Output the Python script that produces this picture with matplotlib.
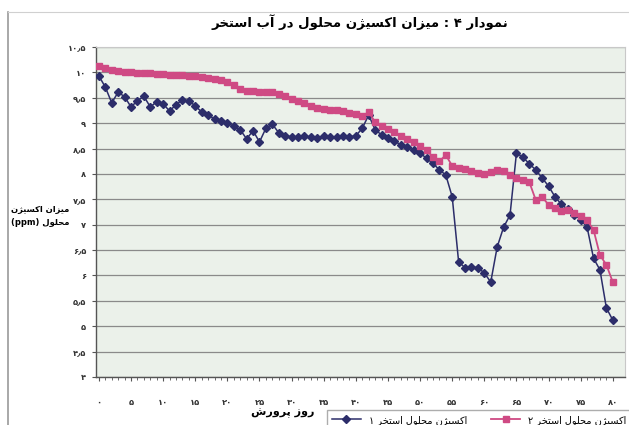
import matplotlib
matplotlib.use("Agg")
import matplotlib.pyplot as plt
from matplotlib.lines import Line2D

# dissolved oxygen (ppm) per rearing day, two ponds
days = list(range(81))

pond_a = [9.93, 9.71, 9.40, 9.61, 9.52, 9.32, 9.44, 9.53, 9.32, 9.42,
          9.38, 9.24, 9.36, 9.46, 9.44, 9.34, 9.22, 9.16, 9.08, 9.04,
          9.00, 8.94, 8.87, 8.69, 8.85, 8.63, 8.90, 8.98, 8.81, 8.75,
          8.73, 8.72, 8.74, 8.73, 8.71, 8.74, 8.73, 8.72, 8.74, 8.73,
          8.75, 8.90, 9.16, 8.87, 8.77, 8.71, 8.65, 8.57, 8.53, 8.47,
          8.41, 8.31, 8.21, 8.08, 7.98, 7.55, 6.27, 6.15, 6.17, 6.15,
          6.05, 5.87, 6.56, 6.95, 7.19, 8.41, 8.33, 8.20, 8.08, 7.92,
          7.76, 7.55, 7.40, 7.30, 7.20, 7.10, 6.95, 6.34, 6.11, 5.36,
          5.12]

pond_b = [10.13, 10.09, 10.05, 10.03, 10.01, 10.01, 9.99, 9.99, 9.99, 9.97,
          9.97, 9.95, 9.95, 9.95, 9.93, 9.93, 9.91, 9.89, 9.87, 9.85,
          9.81, 9.75, 9.67, 9.63, 9.63, 9.61, 9.61, 9.61, 9.57, 9.53,
          9.48, 9.44, 9.40, 9.34, 9.30, 9.28, 9.26, 9.26, 9.24, 9.20,
          9.18, 9.14, 9.22, 9.02, 8.94, 8.88, 8.83, 8.75, 8.69, 8.63,
          8.55, 8.47, 8.33, 8.25, 8.37, 8.16, 8.12, 8.10, 8.06, 8.02,
          8.00, 8.04, 8.08, 8.06, 7.98, 7.92, 7.88, 7.84, 7.49, 7.55,
          7.39, 7.33, 7.27, 7.29, 7.23, 7.17, 7.09, 6.90, 6.40, 6.21,
          5.87]

y_ticks = [4, 4.5, 5, 5.5, 6, 6.5, 7, 7.5, 8, 8.5, 9, 9.5, 10, 10.5]
y_tick_labels = ["۴", "۴٫۵", "۵", "۵٫۵", "۶", "۶٫۵", "۷", "۷٫۵",
                 "۸", "۸٫۵", "۹", "۹٫۵", "۱۰", "۱۰٫۵"]
x_ticks = list(range(0, 81, 5))
x_tick_labels = ["۰", "۵", "۱۰", "۱۵", "۲۰", "۲۵", "۳۰", "۳۵", "۴۰",
                 "۴۵", "۵۰", "۵۵", "۶۰", "۶۵", "۷۰", "۷۵", "۸۰"]

title = "نمودار ۴ : میزان اکسیژن محلول در آب استخر"
y_label = "میزان اکسیژن\nمحلول (ppm)"
x_label = "روز پرورش"
series_names = ["اکسیژن محلول استخر ۱", "اکسیژن محلول استخر ۲"]

# contextual glyph forms: isolated, final, initial, medial
FORMS = {
    'ا': ('\uFE8D', '\uFE8E', None, None),
    'آ': ('\uFE81', '\uFE82', None, None),
    'ب': ('\uFE8F', '\uFE90', '\uFE91', '\uFE92'),
    'پ': ('\uFB56', '\uFB57', '\uFB58', '\uFB59'),
    'ت': ('\uFE95', '\uFE96', '\uFE97', '\uFE98'),
    'ح': ('\uFEA1', '\uFEA2', '\uFEA3', '\uFEA4'),
    'خ': ('\uFEA5', '\uFEA6', '\uFEA7', '\uFEA8'),
    'د': ('\uFEA9', '\uFEAA', None, None),
    'ر': ('\uFEAD', '\uFEAE', None, None),
    'ز': ('\uFEAF', '\uFEB0', None, None),
    'ژ': ('\uFB8A', '\uFB8B', None, None),
    'س': ('\uFEB1', '\uFEB2', '\uFEB3', '\uFEB4'),
    'ش': ('\uFEB5', '\uFEB6', '\uFEB7', '\uFEB8'),
    'ک': ('\uFB8E', '\uFB8F', '\uFB90', '\uFB91'),
    'ل': ('\uFEDD', '\uFEDE', '\uFEDF', '\uFEE0'),
    'م': ('\uFEE1', '\uFEE2', '\uFEE3', '\uFEE4'),
    'ن': ('\uFEE5', '\uFEE6', '\uFEE7', '\uFEE8'),
    'و': ('\uFEED', '\uFEEE', None, None),
    'ه': ('\uFEE9', '\uFEEA', '\uFEEB', '\uFEEC'),
    'ی': ('\uFBFC', '\uFBFD', '\uFBFE', '\uFBFF'),
}


def shape_word(word):
    if not any(ch in FORMS for ch in word):
        return word
    out = []
    for i, ch in enumerate(word):
        if ch not in FORMS:
            out.append(ch)
            continue
        iso, fin, ini, med = FORMS[ch]
        prev = word[i - 1] if i > 0 else ''
        nxt = word[i + 1] if i + 1 < len(word) else ''
        join_prev = prev in FORMS and FORMS[prev][2] is not None
        join_next = nxt in FORMS and ini is not None
        if join_prev and join_next:
            out.append(med)
        elif join_prev:
            out.append(fin)
        elif join_next:
            out.append(ini)
        else:
            out.append(iso)
    return ''.join(out)[::-1]


def fa(text):
    # right-to-left: join letters, then lay the words out from the right
    return '\n'.join(' '.join(shape_word(w) for w in reversed(line.split(' ')))
                     for line in text.split('\n'))


plt.rcParams['font.family'] = ['DejaVu Sans']

fig = plt.figure(figsize=(6.29, 4.25), dpi=100)
ax = fig.add_axes([96 / 629, 1 - 377 / 425, 529 / 629, 330 / 425])
ax.set_facecolor('#ebf1ea')

ax.plot(days, pond_a, color='#2c2d6a', lw=1.1, marker='D', ms=4.0,
        label=fa(series_names[0]), zorder=3)
ax.plot(days, pond_b, color='#cf4a84', lw=1.3, marker='s', ms=3.8,
        label=fa(series_names[1]), zorder=4)

ax.set_xlim(-0.45, 81.9)
ax.set_ylim(4, 10.5)
ax.set_yticks(y_ticks)
ax.set_yticklabels(y_tick_labels, fontsize=6, fontweight='bold', color='#333333')
ax.set_xticks(x_ticks)
ax.set_xticklabels(x_tick_labels, fontsize=6, fontweight='bold', color='#333333')
ax.set_xticks(days, minor=True)
ax.tick_params(axis='both', which='major', length=3, width=0.8, color='#555555', pad=12)
ax.tick_params(axis='y', pad=4)
ax.tick_params(axis='x', which='minor', length=2, width=0.6, color='#555555')
ax.grid(axis='y', color='#8a8a8a', lw=0.9)
ax.set_axisbelow(True)
for side in ['left', 'bottom']:
    ax.spines[side].set_color('#555555')
    ax.spines[side].set_linewidth(1.0)
for side in ['top', 'right']:
    ax.spines[side].set_color('#c8c8c8')
    ax.spines[side].set_linewidth(0.8)

fig.text(360 / 629, 1 - 22 / 425, fa(title), ha='center', va='center',
         fontsize=9.5, fontweight='bold')
fig.text(40 / 629, 1 - 216 / 425, fa(y_label), ha='center', va='center',
         fontsize=6, fontweight='bold', linespacing=1.6)
fig.text(283 / 629, 1 - 413 / 425, fa(x_label), ha='center', va='center',
         fontsize=8, fontweight='bold')

ax.legend(loc='upper left', bbox_to_anchor=(322 / 629, 1 - 405 / 425),
          bbox_transform=fig.transFigure, ncol=2, fontsize=7,
          frameon=True, fancybox=False, edgecolor='#999999',
          handlelength=3, borderpad=0.5, columnspacing=2.5)

# outer chart frame
fig.add_artist(Line2D([8 / 629, 8 / 629], [0, 1 - 12 / 425],
                      transform=fig.transFigure, color='#9a9a9a', lw=1.2))
fig.add_artist(Line2D([8 / 629, 1], [1 - 12 / 425, 1 - 12 / 425],
                      transform=fig.transFigure, color='#d0d0d0', lw=0.8))

fig.savefig('out.png', dpi=100)
